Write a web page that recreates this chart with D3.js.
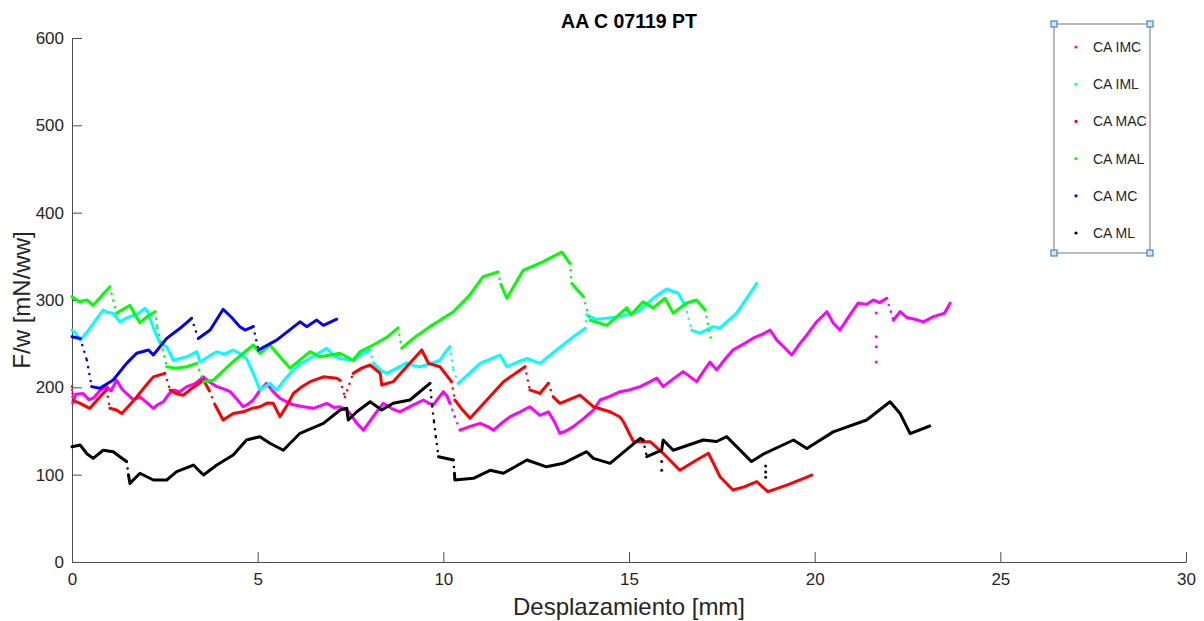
<!DOCTYPE html>
<html>
<head>
<meta charset="utf-8">
<script src="https://cdn.jsdelivr.net/npm/d3@7"></script>
<style>
  html, body { margin: 0; padding: 0; background: #fff; }
  svg { display: block; font-family: "Liberation Sans", Arial, Helvetica, sans-serif; }
</style>
</head>
<body>
<svg id="chart" width="1204" height="621"></svg>
<script>
// Force per unit width vs. displacement, six specimens of sample AA C 07119 PT.
// null breaks a trace; a single point between nulls is a stray sample.
const seriesNames = ["CA IMC", "CA IML", "CA MAC", "CA MAL", "CA MC", "CA ML"];
const seriesColors = ["#ff00ff", "#00ffff", "#ff0000", "#00ff00", "#0000ff", "#000000"];

const caIMC = [[0,197],[0.02,182],[0.1,192],[0.3,193],[0.45,186],[0.57,187.5],[0.75,196],[0.93,200.8],[1.05,196],[1.2,208],[1.35,198],[1.47,193],[1.65,186],[1.83,189],[2.0,183],[2.19,176],[2.3,180],[2.46,183.5],[2.6,192],[2.73,197],[2.9,195],[3.09,200.8],[3.3,204],[3.54,212],[3.7,206],[3.9,200.8],[4.1,198],[4.26,195],[4.45,186],[4.61,177.8],[4.75,181],[4.88,185.5],[5.05,196],[5.24,204.6],[5.4,196],[5.6,187.5],[5.8,183],[5.96,180],[6.2,178],[6.5,176],[6.7,179],[6.86,181.7],[7.05,177],[7.22,177.8],[7.4,174],[7.49,170],[7.67,158.8],[7.85,151],[8.1,166],[8.38,181.7],[8.6,176],[8.83,172],[9.1,178],[9.46,185.5],[9.6,182],[9.73,180],[10,195],[10.1,190],[10.18,181.7],[10.31,166.4],[10.45,151],[10.7,155],[10.99,158.8],[11.2,155],[11.35,151],[11.6,160],[11.8,166.4],[12.07,172],[12.33,177.8],[12.6,168],[12.83,172],[13.0,160],[13.14,147.4],[13.3,150],[13.5,155],[13.8,165],[14.04,174],[14.22,185.5],[14.5,190],[14.76,195],[15.0,197],[15.3,200.8],[15.5,205],[15.75,210.6],[15.92,200.8],[16.2,210],[16.46,218],[16.65,212],[16.82,206.5],[17.0,218],[17.18,229],[17.36,220],[17.6,233],[17.8,242.8],[18.1,250],[18.35,256.5],[18.6,261],[18.8,265.6],[18.98,254],[19.2,245],[19.38,237],[19.6,250],[19.79,260],[20.05,275],[20.33,286.6],[20.5,273.7],[20.68,265.6],[20.95,283],[21.17,296.5],[21.4,295],[21.58,300],[21.75,297],[21.94,302],[22.12,277],[22.3,286.6],[22.48,280],[22.7,278],[22.93,275],[23.2,281],[23.5,285],[23.65,296.5],
  null,[21.66,285],null,[21.66,258],null,[21.66,246.5],null,[21.66,229]];

const caIML = [[0,265.6],[0.1,262],[0.22,254],[0.4,263],[0.57,273],[0.84,288.6],[0.95,286],[1.11,284.8],[1.29,275],[1.45,279],[1.56,281],[1.79,284.8],[1.97,290.5],[2.05,286],[2.15,273],[2.25,262],[2.37,250.5],[2.55,246.5],[2.73,231],[2.9,233],[3.09,235],[3.36,240.8],[3.45,229],[3.7,236],[3.9,240.8],[4.1,238],[4.34,242.8],[4.55,238],[4.7,233],[4.88,216],[5.06,197],[5.33,204.6],[5.51,197],[5.75,210],[5.96,220],[6.15,227],[6.32,231],[6.6,238],[6.86,244.7],[7.05,236],[7.22,233],[7.58,231],[7.8,238],[8.03,242.8],[8.11,228],[8.3,220],[8.47,216],[8.75,222],[9.01,228],[9.2,225],[9.37,223.6],[9.65,227],[9.91,231],[10.05,240],[10.18,246.5],[10.27,220],[10.4,204.6],[10.7,216],[10.99,227.5],[11.25,232],[11.53,237],[11.71,223.6],[12.0,229],[12.25,233],[12.6,227.5],[13.05,242.8],[13.5,258],[13.82,267.6],[13.86,283],[14.1,278],[14.4,279],[14.76,281],[15.3,288.6],[15.65,302],[16.01,312.6],[16.32,308],[16.51,294],[16.69,265.6],[16.91,262],[17.1,266],[17.27,269.5],[17.45,268],[17.9,285],[18.44,319]];

const caMAC = [[0,200.8],[0.03,185],[0.22,181.7],[0.48,176],[0.75,189],[0.93,197],[1.02,176],[1.2,174],[1.34,170],[1.56,180],[1.74,189],[1.95,200],[2.19,212],[2.5,216],[2.64,197],[2.8,193],[3.0,191],[3.2,198],[3.36,202.7],[3.54,208.4],[3.7,196],[3.85,180],[4.07,162.6],[4.34,170],[4.61,172],[4.85,176],[5.06,177.8],[5.25,182],[5.42,181.7],[5.6,166.4],[5.8,180],[5.96,193],[6.2,201],[6.41,206.5],[6.77,212],[7.13,210.4],[7.22,208],[7.35,189],[7.57,216],[7.8,222],[8.03,225.6],[8.3,216],[8.34,202.7],[8.65,206.5],[9.01,223.6],[9.42,242.8],[9.6,227.5],[9.91,223.6],[10.22,206.5],[10.31,185.5],[10.5,175],[10.72,164.5],[11.17,185.5],[11.62,206.5],[12.2,223.6],[12.33,197],[12.6,193],[12.83,204.6],[12.96,189],[13.14,181.7],[13.68,191],[14.04,177.8],[14.49,172],[14.76,166],[14.85,160.6],[15.12,137.8],[15.57,137.8],[15.92,124.5],[16.37,105],[16.82,116.8],[17.14,124.5],[17.45,97.7],[17.8,82.4],[18.1,86],[18.44,92],[18.74,80.5],[19.25,88],[19.92,99.6]];

const caMAL = [[0,303.8],[0.2,298],[0.4,300],[0.57,294],[0.8,305],[1.02,315],[1.2,285],[1.4,290],[1.56,294],[1.7,283],[1.83,274],[2.05,282],[2.24,286.6],[2.3,268],[2.4,251],[2.55,223.6],[2.8,222],[3.09,223.6],[3.36,227.5],[3.54,206.5],[3.8,208],[4.3,228],[4.88,248.5],[5.06,239],[5.33,248.5],[5.6,235],[5.87,222],[6.1,230],[6.41,240.8],[6.68,235],[7.22,239],[7.57,231],[7.76,241],[8.11,248.5],[8.5,258],[8.78,268],[8.88,245],[9.25,258],[9.64,269.5],[10.27,286.6],[10.7,305],[11.07,326.7],[11.47,332],[11.55,318],[11.71,302],[12.15,334],[12.69,344],[13.19,355],[13.41,342],[13.46,319],[13.77,304],[13.95,277],[14.4,271],[14.94,291],[15.05,283],[15.38,298],[15.65,291],[15.97,302],[16.19,285],[16.55,296.5],[16.82,300],[17.05,288.6],[17.23,250.5]];

const caMC = [[0,258],[0.22,256],[0.4,231],[0.53,200.8],[0.75,199],[1.11,208.4],[1.47,227.5],[1.74,239],[2.06,242.8],[2.19,237],[2.55,256],[2.91,267.6],[3.22,279],[3.4,256],[3.72,265.6],[4.07,289.4],[4.3,280],[4.52,269.5],[4.66,265.6],[4.88,269.5],[5.02,242.8],[5.51,254],[6.14,275],[6.32,269.5],[6.59,277],[6.77,271],[7.13,278]];

const caML = [[0,132],[0.22,134],[0.4,124],[0.57,118.7],[0.84,128],[1.11,126.3],[1.29,120.6],[1.47,115],[1.52,100],[1.56,90],[1.83,101.6],[2.19,93.9],[2.55,93.9],[2.82,103.4],[3.27,111],[3.54,99.6],[3.9,111],[4.34,122.5],[4.7,139.7],[5.06,143.5],[5.33,136],[5.69,128],[6.14,147.4],[6.77,158.8],[7.22,174],[7.4,176],[7.44,162.6],[7.67,172],[8.03,183.5],[8.34,174],[8.65,181.7],[9.1,185.5],[9.64,204.6],[9.7,178],[9.75,160],[9.8,143],[9.87,120.6],[10.27,116.8],[10.3,101.6],[10.31,93.9],[10.81,95.8],[11.26,105],[11.62,101.6],[12.25,116.8],[12.78,109],[13.23,113],[13.86,126.3],[14.04,118.7],[14.49,113],[15.3,141.6],[15.38,139.7],[15.48,120.6],[15.88,128],[15.92,139.7],[16.19,128],[17,139.7],[17.36,138],[17.63,143.5],[18.3,115],[18.66,124.5],[19.43,139.7],[19.79,130],[20.5,149],[21.4,162.6],[22.03,183.5],[22.3,170],[22.57,147],[23.1,155.7],
  null,[15.88,115],null,[15.88,105],null,[18.68,110],null,[18.68,103],null,[18.68,97]];

const seriesData = [caIMC, caIML, caMAC, caMAL, caMC, caML];

const xTicks = [0, 5, 10, 15, 20, 25, 30];
const yTicks = [0, 100, 200, 300, 400, 500, 600];
const titleText = "AA C 07119 PT";
const xLabel = "Desplazamiento [mm]";
const yLabel = "F/w [mN/ww]";

const svg = d3.select("#chart");
const plot = { left: 72, right: 1186, top: 38, bottom: 562 };

const x = d3.scaleLinear().domain([0, 30]).range([plot.left, plot.right]);
const y = d3.scaleLinear().domain([0, 600]).range([plot.bottom, plot.top]);

const axisColor = "#4d4d4d";
const textColor = "#262626";

// Axes (MATLAB-style inward ticks, no box)
const gx = svg.append("g").attr("transform", `translate(0,${plot.bottom})`)
  .call(d3.axisBottom(x).tickValues(xTicks).tickSize(-10).tickPadding(14).tickSizeOuter(0));
const gy = svg.append("g").attr("transform", `translate(${plot.left},0)`)
  .call(d3.axisLeft(y).tickValues(yTicks).tickSize(-10).tickPadding(8).tickSizeOuter(0));
[gx, gy].forEach(g => {
  g.select(".domain").attr("stroke", axisColor).attr("stroke-width", 1);
  g.selectAll(".tick line").attr("stroke", axisColor).attr("stroke-width", 1);
  g.selectAll(".tick text").attr("fill", textColor).attr("font-size", 17)
    .attr("font-family", "Liberation Sans, Arial, sans-serif");
});
gx.selectAll(".tick text").attr("dy", "0.55em");

// Title and axis labels
svg.append("text").attr("x", (plot.left + plot.right) / 2).attr("y", 28)
  .attr("text-anchor", "middle").attr("font-weight", "bold").attr("font-size", 19.5)
  .attr("fill", "#000").text(titleText);
svg.append("text").attr("x", (plot.left + plot.right) / 2).attr("y", 615)
  .attr("text-anchor", "middle").attr("font-size", 24).attr("fill", textColor).text(xLabel);
svg.append("text").attr("transform", `translate(30,${(plot.top + plot.bottom) / 2}) rotate(-90)`)
  .attr("text-anchor", "middle").attr("font-size", 24).attr("fill", textColor).text(yLabel);

// Traces: dense samples render as a continuous stroke; steep jumps between samples
// render as separated dots, isolated samples as single dots.
const line = d3.line().x(d => x(d[0])).y(d => y(d[1]));
const lw = 3;

function isSteep(a, b) {
  const dx = Math.abs(x(b[0]) - x(a[0]));
  const dy = Math.abs(y(b[1]) - y(a[1]));
  return dy > 12 && dy > 2.5 * dx;
}

const traces = svg.append("g").attr("class", "traces");
seriesData.forEach((data, i) => {
  const g = traces.append("g").attr("class", "series").attr("data-name", seriesNames[i]);
  const color = seriesColors[i];
  // split into runs at nulls
  const runs = [];
  let cur = [];
  data.forEach(p => {
    if (p === null) { if (cur.length) runs.push(cur); cur = []; }
    else cur.push(p);
  });
  if (cur.length) runs.push(cur);

  runs.forEach(run => {
    if (run.length === 1) {
      g.append("circle").attr("cx", x(run[0][0])).attr("cy", y(run[0][1]))
        .attr("r", lw / 2).attr("fill", color);
      return;
    }
    let solid = [run[0]];
    for (let k = 1; k < run.length; k++) {
      const a = run[k - 1], b = run[k];
      if (isSteep(a, b)) {
        if (solid.length > 1) {
          g.append("path").attr("d", line(solid)).attr("fill", "none")
            .attr("stroke", color).attr("stroke-width", lw)
            .attr("stroke-linejoin", "round").attr("stroke-linecap", "round");
        }
        g.append("path").attr("d", line([a, b])).attr("fill", "none")
          .attr("stroke", color).attr("stroke-width", lw * 0.85)
          .attr("stroke-linecap", "round").attr("stroke-dasharray", "0 7");
        solid = [b];
      } else {
        solid.push(b);
      }
    }
    if (solid.length > 1) {
      g.append("path").attr("d", line(solid)).attr("fill", "none")
        .attr("stroke", color).attr("stroke-width", lw)
        .attr("stroke-linejoin", "round").attr("stroke-linecap", "round");
    }
  });
});

// Legend
const legend = { left: 1054, top: 24, right: 1150, bottom: 253 };
const lg = svg.append("g").attr("class", "legend");
lg.append("rect").attr("x", legend.left).attr("y", legend.top)
  .attr("width", legend.right - legend.left).attr("height", legend.bottom - legend.top)
  .attr("fill", "#fff").attr("stroke", "#8c8c8c").attr("stroke-width", 1.2);
const entryY = d3.scalePoint().domain(seriesNames).range([47, 233]);
seriesNames.forEach((name, i) => {
  lg.append("circle").attr("cx", 1076).attr("cy", entryY(name)).attr("r", 1.6)
    .attr("fill", seriesColors[i]);
  lg.append("text").attr("x", 1093).attr("y", entryY(name)).attr("dy", "0.36em")
    .attr("font-size", 14).attr("fill", textColor).text(name);
});
// selection handles on the legend corners
[[legend.left, legend.top], [legend.right, legend.top], [legend.left, legend.bottom], [legend.right, legend.bottom]]
  .forEach(([cx, cy]) => {
    lg.append("rect").attr("x", cx - 3).attr("y", cy - 3).attr("width", 6).attr("height", 6)
      .attr("fill", "#d6e6f5").attr("stroke", "#3f86c8").attr("stroke-width", 1.2);
  });
</script>
</body>
</html>
